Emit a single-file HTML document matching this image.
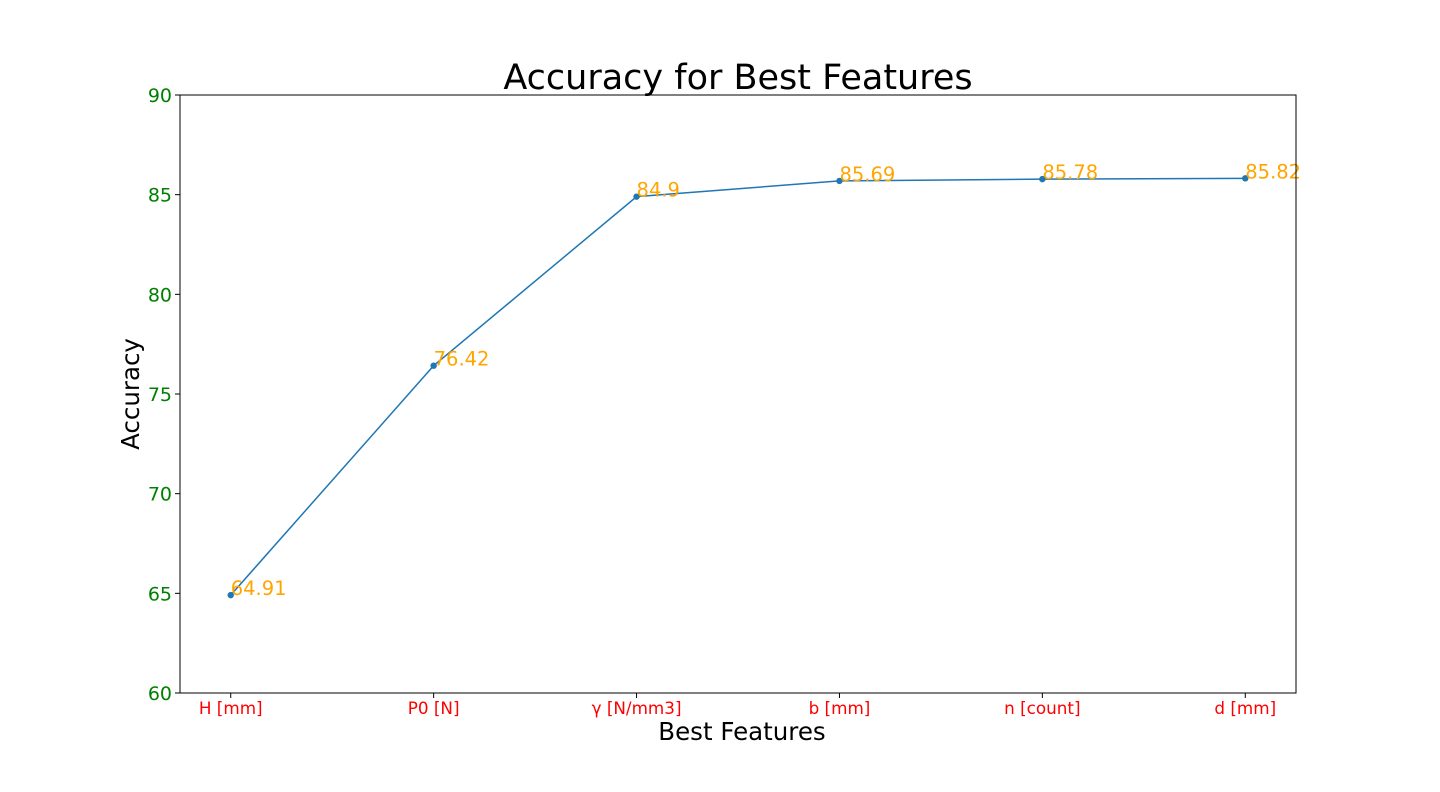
<!DOCTYPE html>
<html><head><meta charset="utf-8"><style>
html,body{margin:0;padding:0;background:#fff;}
svg{display:block;font-family:"DejaVu Sans","Liberation Sans",sans-serif;}
</style></head><body>
<svg id="chart" width="1440" height="792" xmlns="http://www.w3.org/2000/svg">
<rect x="0" y="0" width="1440" height="792" fill="#fff"/>
<text x="738" y="89" font-size="35" text-anchor="middle" fill="#000">Accuracy for Best Features</text>
<text x="742" y="740" font-size="24.5" text-anchor="middle" fill="#000">Best Features</text>
<text transform="translate(139,394) rotate(-90)" font-size="24.5" text-anchor="middle" fill="#000">Accuracy</text>
<g id="yticks"></g><g id="xticks"></g><g id="series"></g>
<rect x="180" y="95" width="1116" height="598" fill="none" stroke="#000" stroke-width="1"/>
</svg>
<script>
const categories = ["H [mm]","P0 [N]","γ [N/mm3]","b [mm]","n [count]","d [mm]"];
const accuracyValues = [64.91,76.42,84.9,85.69,85.78,85.82];
const valueLabels = ["64.91","76.42","84.9","85.69","85.78","85.82"];
const yTickValues = [60,65,70,75,80,85,90];

const L=180,R=1296,T=95,B=693;
const xScale=i=>L+(i+0.25)/(categories.length-1+0.5)*(R-L);
const yScale=v=>B-(v-60)/30*(B-T);
const NS="http://www.w3.org/2000/svg";
function mk(tag,attrs,parent){const e=document.createElementNS(NS,tag);for(const k in attrs)e.setAttribute(k,attrs[k]);parent.appendChild(e);return e;}

const yg=document.getElementById('yticks');
yTickValues.forEach(v=>{
  const y=yScale(v);
  const t=mk('line',{x1:L-5,x2:L,y1:y,y2:y,stroke:'#000'},yg);
  
  
  const lb=mk('text',{x:L-8,y:y+7,'font-size':19,'text-anchor':'end',fill:'green'},yg);
  lb.textContent=v;
  
  
});
const xg=document.getElementById('xticks');
categories.forEach((c,i)=>{
  const x=xScale(i);
  const t=mk('line',{x1:x,x2:x,y1:B,y2:B+5,stroke:'#000'},xg);
  
  
  const lb=mk('text',{x:x,y:B+21,'font-size':16.8,'text-anchor':'middle',fill:'red'},xg);
  lb.textContent=c;
  
  
});
const sg=document.getElementById('series');
const pts=accuracyValues.map((v,i)=>xScale(i)+','+yScale(v)).join(' ');
const line=mk('polyline',{points:pts,fill:'none',stroke:'#1f77b4','stroke-width':1.5},sg);


accuracyValues.forEach((v,i)=>{
  const x=xScale(i),y=yScale(v);
  const c=mk('circle',{cx:x,cy:y,r:3.2,fill:'#1f77b4'},sg);
  
  
  const lb=mk('text',{x:x,y:y,'font-size':19.5,fill:'orange'},sg);
  lb.textContent=valueLabels[i];
  
  
});
</script>
</body></html>
